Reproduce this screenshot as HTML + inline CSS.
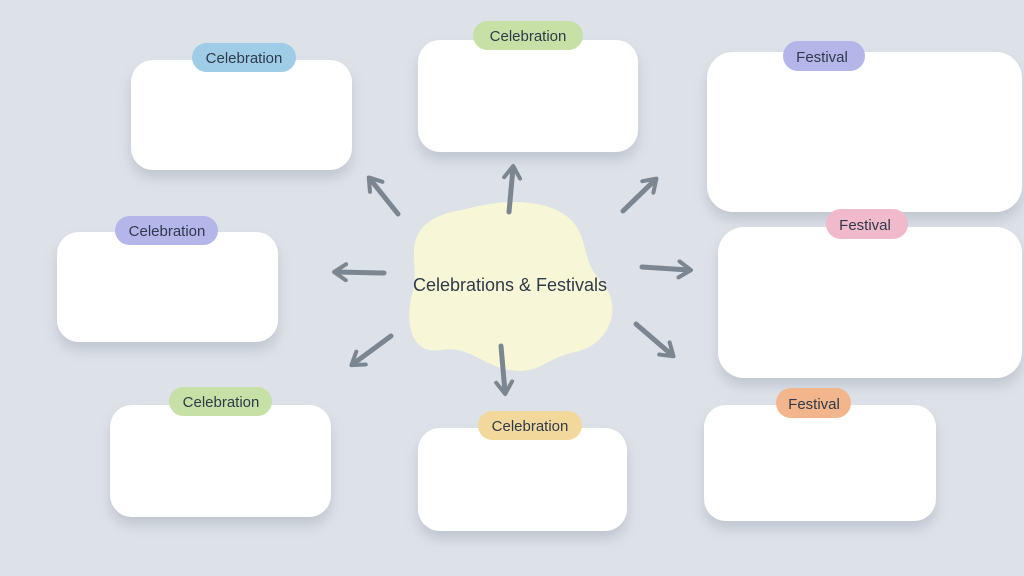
<!DOCTYPE html>
<html><head><meta charset="utf-8"><style>
html,body{margin:0;padding:0;background:#dde1e8;}
svg{display:block}
text{font-family:"Liberation Sans",sans-serif;fill:#2f3a4a;}
</style></head><body>
<svg width="1024" height="576" viewBox="0 0 1024 576" xmlns="http://www.w3.org/2000/svg">
<defs>
<filter id="sh" x="-20%" y="-20%" width="140%" height="160%"><feDropShadow dx="0" dy="8" stdDeviation="6" flood-color="#8a95a5" flood-opacity="0.35"/></filter>
<marker id="ah" viewBox="0 0 10 10" refX="6" refY="5" markerWidth="4" markerHeight="4" orient="auto"><path d="M1,1 L7,5 L1,9" fill="none" stroke="#7b8690" stroke-width="2" stroke-linecap="round" stroke-linejoin="round"/></marker>
</defs>
<rect width="1024" height="576" fill="#dde1e8"/>
<g fill="#fff" filter="url(#sh)">
<rect x="131" y="60" width="221" height="110" rx="22"/>
<rect x="418" y="40" width="220" height="112" rx="22"/>
<rect x="707" y="52" width="315" height="160" rx="26"/>
<rect x="57" y="232" width="221" height="110" rx="22"/>
<rect x="718" y="227" width="304" height="151" rx="26"/>
<rect x="110" y="405" width="221" height="112" rx="22"/>
<rect x="418" y="428" width="209" height="103" rx="22"/>
<rect x="704" y="405" width="232" height="116" rx="22"/>
</g>
<path d="M470,208 C500,200 540,198 565,215 C590,232 580,260 600,280 C625,305 610,345 575,352 C545,358 540,375 510,370 C480,365 470,345 440,350 C410,355 405,320 412,295 C420,265 405,245 425,225 C440,212 455,212 470,208 Z" fill="#f7f7d7"/>
<g stroke="#7b8690" stroke-width="5" stroke-linecap="round" fill="none" marker-end="url(#ah)">
<line x1="398" y1="214" x2="370" y2="179"/>
<line x1="509" y1="212" x2="513" y2="168"/>
<line x1="623" y1="211" x2="655" y2="180"/>
<line x1="384" y1="273" x2="336" y2="272"/>
<line x1="642" y1="267" x2="689" y2="270"/>
<line x1="391" y1="336" x2="353" y2="364"/>
<line x1="501" y1="346" x2="505" y2="392"/>
<line x1="636" y1="324" x2="672" y2="355"/>
</g>
<g>
<rect x="192" y="43" width="104" height="29" rx="14.5" fill="#9fcde8"/>
<rect x="473" y="21" width="110" height="29" rx="14.5" fill="#c6e0a6"/>
<rect x="783" y="41" width="82" height="30" rx="15" fill="#b4b6ea"/>
<rect x="115" y="216" width="103" height="29" rx="14.5" fill="#b4b6ea"/>
<rect x="826" y="209" width="82" height="30" rx="15" fill="#f0b9cc"/>
<rect x="169" y="387" width="103" height="29" rx="14.5" fill="#c6e0a6"/>
<rect x="478" y="411" width="104" height="29" rx="14.5" fill="#f3d89b"/>
<rect x="776" y="388" width="75" height="30" rx="15" fill="#f3b58b"/>
</g>
<g font-size="15" text-anchor="middle">
<text x="244" y="63">Celebration</text>
<text x="528" y="41">Celebration</text>
<text x="822" y="62">Festival</text>
<text x="167" y="236">Celebration</text>
<text x="865" y="230">Festival</text>
<text x="221" y="407">Celebration</text>
<text x="530" y="431">Celebration</text>
<text x="814" y="409">Festival</text>
</g>
<text x="510" y="291" font-size="18" text-anchor="middle">Celebrations &amp; Festivals</text>
</svg>
</body></html>
